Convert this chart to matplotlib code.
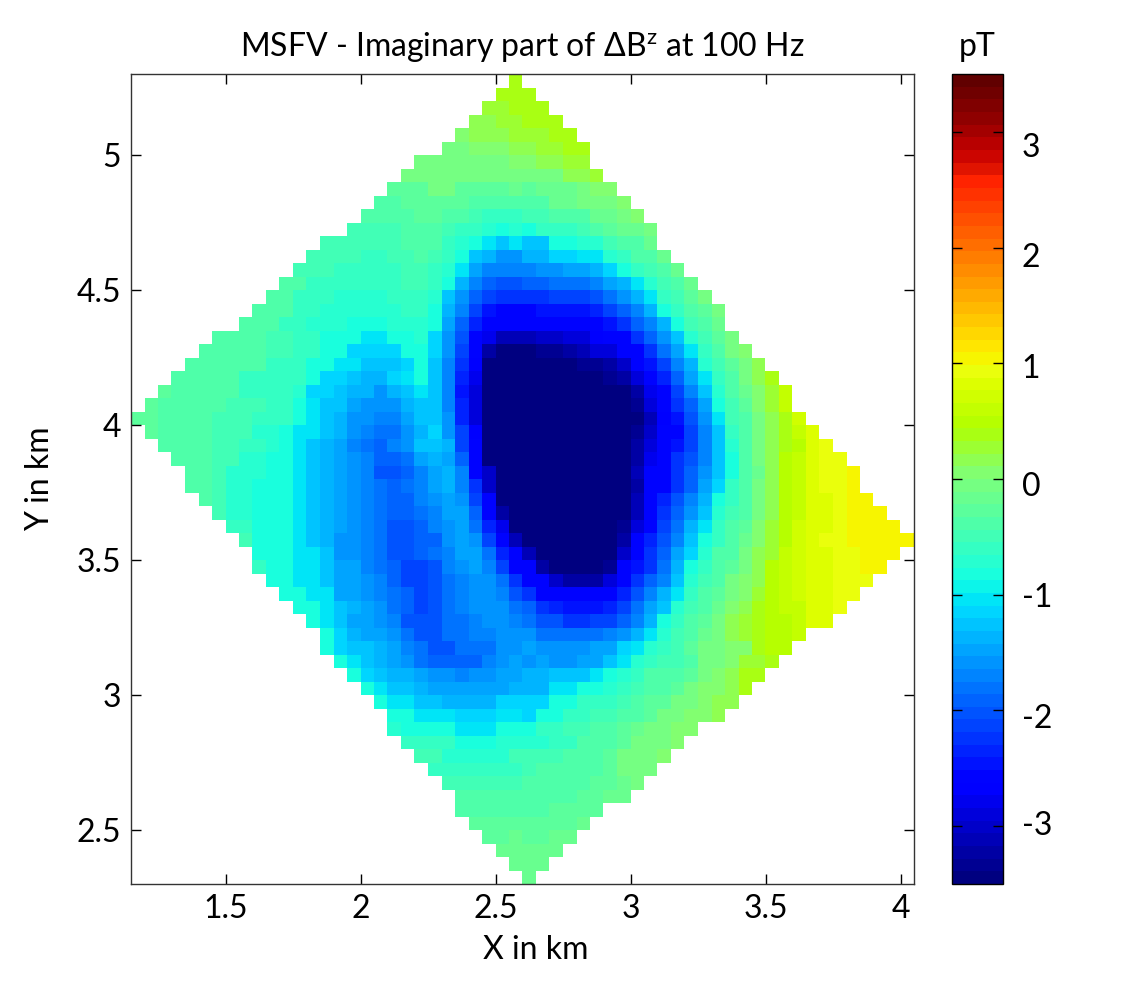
#!/usr/bin/env python3
import matplotlib

matplotlib.use("Agg")

import matplotlib.pyplot as plt
import numpy as np
from matplotlib.colors import ListedColormap

# grid of the map: 58 columns x 60 rows, 0.05 km cells
X_EDGES = np.linspace(1.15, 4.05, 59)
Y_EDGES = np.linspace(5.3, 2.3, 61)

X_TICKS = [1.5, 2, 2.5, 3, 3.5, 4]
Y_TICKS = [2.5, 3, 3.5, 4, 4.5, 5]
CBAR_TICKS = [-3, -2, -1, 0, 1, 2, 3]
# the labels of the colour bar sit a little off their ticks in the original
CBAR_LABEL_Y = [-3.0, -2.07, -1.03, -0.07, 0.95, 1.91, 2.86]

# first filled column of each row, top row first
ROW_START = [
    28, 27, 26, 25, 24, 23, 21, 20, 19, 18, 17, 16, 14, 13, 12, 11, 10, 9, 8, 6,
    5, 4, 3, 2, 1, 0, 1, 2, 3, 4, 4, 5, 6, 7, 8, 9, 9, 10, 11, 12,
    13, 14, 14, 15, 16, 17, 18, 19, 19, 20, 21, 22, 23, 24, 24, 25, 26, 27, 28, 29,
]

# colour grades, one number per cell
ROW_VALUES = [
    [4],
    [4, 4, 4],
    [3, 3, 4, 4, 4],
    [2, 2, 3, 3, 4, 4, 4],
    [1, 2, 2, 2, 3, 3, 3, 4, 4],
    [0, 0, 1, 1, 1, 2, 2, 3, 3, 4, 4],
    [-1, -1, 0, 0, 0, 0, 0, 1, 1, 2, 2, 3, 3],
    [-1, -1, -1, -1, -1, -1, -1, -1, -1, -1, 0, 0, 2, 2, 3],
    [-3, -3, -3, -1, -1, -3, -3, -3, -3, -2, -3, -2, -2, -2, -1, 1, 1],
    [-4, -4, -3, -3, -3, -3, -3, -5, -5, -5, -5, -4, -4, -2, -2, -1, -1, 0, 1],
    [-5, -5, -5, -5, -3, -3, -4, -4, -6, -7, -7, -7, -6, -6, -5, -5, -4, -2, -2, -1, 1],
    [-6, -6, -6, -6, -5, -5, -5, -6, -7, -7, -8, -9, -8, -9, -7, -7, -7, -6, -5, -3, -2, -2, 0],
    [-6, -6, -6, -6, -6, -6, -5, -5, -5, -7, -8, -9, -10, -12, -10, -12, -12, -9, -9, -8, -8, -6, -5, -4, -2],
    [-6, -6, -6, -6, -7, -7, -6, -6, -5, -6, -7, -9, -12, -13, -15, -15, -13, -13, -11, -11, -10, -10, -8, -7, -5, -4, -2],
    [-6, -6, -6, -7, -7, -7, -7, -7, -6, -6, -7, -8, -10, -14, -17, -17, -17, -17, -15, -15, -14, -14, -13, -11, -9, -7, -6, -4, -2],
    [-5, -5, -7, -7, -7, -7, -7, -7, -7, -6, -6, -7, -9, -13, -17, -19, -21, -21, -19, -19, -18, -18, -18, -17, -14, -13, -10, -8, -6, -5, -2],
    [-5, -5, -7, -7, -7, -8, -8, -8, -8, -7, -7, -7, -8, -12, -15, -19, -22, -23, -23, -23, -23, -22, -22, -22, -21, -18, -15, -13, -10, -7, -6, -3, 0],
    [-4, -5, -5, -7, -7, -8, -8, -8, -8, -8, -8, -7, -7, -9, -13, -17, -22, -25, -26, -26, -26, -25, -25, -25, -25, -24, -22, -19, -17, -13, -9, -7, -4, -3, -1],
    [-4, -5, -5, -7, -7, -8, -8, -8, -9, -9, -9, -8, -8, -8, -9, -14, -19, -24, -26, -26, -26, -26, -26, -26, -26, -26, -26, -25, -23, -19, -17, -13, -9, -6, -4, -2],
    [-4, -4, -5, -5, -6, -6, -7, -7, -9, -9, -9, -10, -10, -9, -9, -8, -11, -15, -21, -26, -28, -31, -31, -31, -30, -30, -29, -29, -27, -26, -26, -23, -19, -15, -12, -8, -6, -3, 0],
    [-4, -4, -5, -5, -5, -6, -6, -7, -7, -9, -9, -11, -11, -11, -11, -9, -9, -11, -15, -22, -26, -32, -35, -35, -35, -33, -33, -32, -31, -29, -29, -26, -26, -23, -18, -14, -10, -7, -4, -1, 1],
    [-4, -4, -5, -5, -5, -5, -7, -7, -7, -9, -9, -10, -10, -12, -12, -12, -11, -9, -12, -17, -23, -27, -35, -35, -35, -35, -35, -35, -35, -33, -33, -32, -30, -26, -25, -22, -17, -13, -8, -6, -3, 0, 2],
    [-4, -4, -5, -5, -5, -7, -7, -7, -7, -7, -9, -11, -11, -12, -13, -13, -11, -10, -9, -12, -17, -24, -28, -35, -35, -35, -35, -35, -35, -35, -35, -35, -33, -32, -29, -26, -24, -19, -14, -10, -7, -4, 0, 2, 4],
    [-3, -4, -4, -5, -5, -5, -7, -7, -7, -7, -8, -11, -11, -12, -13, -13, -15, -13, -12, -10, -12, -17, -25, -29, -35, -35, -35, -35, -35, -35, -35, -35, -35, -35, -34, -32, -28, -26, -22, -17, -12, -8, -5, -2, 1, 3, 6],
    [-3, -4, -4, -4, -5, -5, -6, -6, -6, -7, -7, -9, -10, -12, -12, -14, -15, -15, -15, -13, -12, -12, -17, -24, -29, -35, -35, -35, -35, -35, -35, -35, -35, -35, -35, -35, -33, -29, -26, -23, -19, -14, -9, -6, -3, 1, 3, 6],
    [-3, -3, -4, -4, -5, -5, -6, -6, -6, -7, -7, -7, -9, -10, -12, -13, -15, -15, -17, -17, -14, -12, -12, -15, -24, -29, -35, -35, -35, -35, -35, -35, -35, -35, -35, -35, -35, -34, -31, -27, -25, -21, -15, -10, -6, -4, 0, 2, 4, 7],
    [-3, -4, -4, -5, -5, -6, -6, -6, -8, -8, -9, -10, -10, -12, -13, -15, -17, -18, -18, -15, -13, -11, -15, -22, -27, -35, -35, -35, -35, -35, -35, -35, -35, -35, -35, -35, -33, -30, -26, -26, -22, -17, -12, -7, -4, 0, 2, 4, 6, 8],
    [-4, -4, -5, -5, -6, -6, -7, -7, -8, -9, -10, -12, -13, -14, -17, -18, -19, -17, -15, -12, -12, -13, -22, -26, -35, -35, -35, -35, -35, -35, -35, -35, -35, -35, -35, -32, -29, -26, -25, -22, -17, -12, -8, -4, -1, 2, 4, 5, 8, 9],
    [-4, -5, -5, -6, -6, -8, -8, -9, -9, -10, -12, -13, -14, -15, -17, -19, -19, -18, -14, -13, -14, -19, -26, -35, -35, -35, -35, -35, -35, -35, -35, -35, -35, -35, -32, -28, -26, -23, -21, -17, -12, -9, -5, -1, 2, 5, 6, 8, 9, 9],
    [-5, -5, -6, -8, -8, -8, -9, -9, -10, -12, -13, -14, -15, -17, -21, -21, -19, -17, -14, -13, -17, -26, -30, -35, -35, -35, -35, -35, -35, -35, -35, -35, -35, -31, -26, -26, -23, -19, -15, -12, -9, -5, -2, 2, 5, 6, 8, 9, 9, 11],
    [-5, -5, -6, -8, -8, -9, -9, -9, -10, -12, -13, -14, -15, -17, -18, -19, -18, -17, -14, -13, -17, -23, -30, -35, -35, -35, -35, -35, -35, -35, -35, -35, -35, -32, -26, -26, -23, -19, -14, -11, -7, -4, -1, 2, 5, 6, 8, 9, 9, 11],
    [-5, -6, -8, -8, -9, -9, -9, -10, -12, -13, -14, -15, -17, -18, -19, -19, -17, -15, -14, -15, -22, -26, -35, -35, -35, -35, -35, -35, -35, -35, -35, -35, -31, -26, -24, -21, -17, -13, -9, -7, -5, 0, 2, 5, 6, 8, 8, 9, 11, 11],
    [-6, -8, -8, -9, -9, -9, -10, -12, -13, -14, -15, -17, -18, -19, -19, -18, -17, -14, -14, -19, -26, -32, -35, -35, -35, -35, -35, -35, -35, -35, -35, -31, -26, -23, -19, -15, -12, -8, -6, -4, 0, 2, 5, 6, 8, 8, 9, 11, 11, 11],
    [-7, -7, -9, -9, -9, -10, -12, -13, -14, -15, -17, -18, -21, -21, -19, -17, -15, -14, -18, -24, -28, -34, -35, -35, -35, -35, -35, -35, -35, -33, -29, -26, -22, -18, -13, -10, -7, -5, -3, 1, 3, 5, 7, 8, 8, 9, 11, 11, 11, 11],
    [-6, -9, -9, -9, -10, -12, -13, -15, -15, -17, -18, -21, -21, -19, -19, -15, -14, -15, -22, -26, -31, -35, -35, -35, -35, -35, -35, -35, -32, -26, -24, -21, -17, -12, -9, -7, -5, -2, 1, 3, 5, 7, 8, 9, 9, 11, 11, 11, 11, 11],
    [-9, -9, -9, -10, -10, -12, -15, -15, -17, -18, -21, -21, -19, -18, -17, -14, -14, -18, -24, -26, -31, -35, -35, -35, -35, -35, -35, -30, -26, -23, -19, -14, -11, -8, -5, -4, 0, 2, 3, 6, 7, 8, 8, 9, 9, 11, 11, 11],
    [-7, -9, -9, -10, -10, -12, -14, -14, -17, -18, -19, -22, -22, -21, -17, -15, -14, -17, -22, -26, -26, -32, -35, -35, -35, -35, -33, -26, -25, -23, -18, -13, -9, -7, -4, -3, 0, 2, 5, 6, 7, 8, 8, 9, 9, 11, 11],
    [-9, -9, -10, -10, -12, -14, -14, -15, -17, -19, -22, -22, -21, -18, -17, -15, -15, -18, -23, -26, -26, -30, -32, -32, -32, -29, -26, -23, -19, -17, -12, -8, -6, -4, -1, 1, 2, 5, 6, 7, 8, 8, 9, 9, 9],
    [-9, -9, -10, -10, -14, -14, -15, -17, -18, -19, -22, -21, -18, -17, -15, -15, -17, -21, -23, -26, -26, -26, -26, -26, -26, -24, -21, -17, -13, -10, -7, -5, -3, 0, 1, 3, 5, 6, 7, 8, 8, 9, 9],
    [-9, -9, -10, -12, -13, -14, -15, -18, -19, -22, -21, -18, -17, -15, -15, -15, -18, -19, -23, -24, -25, -25, -25, -24, -22, -18, -14, -12, -8, -6, -4, -2, 1, 2, 4, 5, 6, 6, 8, 8, 9],
    [-9, -10, -12, -14, -14, -15, -17, -20, -20, -20, -18, -18, -17, -15, -15, -17, -18, -21, -21, -23, -23, -22, -22, -19, -17, -13, -9, -7, -5, -3, -1, 2, 3, 4, 5, 5, 6, 8, 8],
    [-9, -11, -13, -14, -14, -15, -18, -20, -20, -18, -18, -17, -17, -15, -15, -16, -18, -18, -18, -18, -18, -17, -15, -13, -10, -8, -6, -4, -2, 0, 2, 3, 4, 5, 5, 6],
    [-9, -11, -12, -12, -13, -14, -17, -18, -20, -20, -18, -18, -18, -15, -15, -14, -16, -16, -16, -16, -14, -14, -11, -10, -8, -7, -6, -3, -1, 0, 1, 1, 4, 5, 5],
    [-9, -10, -12, -13, -14, -15, -18, -19, -19, -19, -19, -17, -15, -14, -15, -14, -15, -15, -14, -14, -12, -10, -8, -7, -6, -6, -4, -1, 0, 1, 3, 3, 4],
    [-9, -11, -12, -13, -13, -14, -15, -15, -17, -16, -16, -14, -14, -13, -13, -12, -12, -12, -10, -9, -8, -7, -5, -4, -4, -3, 0, 1, 2, 4, 4],
    [-9, -10, -12, -12, -13, -14, -14, -14, -14, -14, -14, -13, -13, -13, -10, -10, -9, -9, -8, -7, -6, -4, -4, -3, -1, 1, 1, 2, 4],
    [-9, -10, -10, -12, -12, -13, -13, -13, -13, -11, -11, -11, -11, -9, -9, -7, -7, -7, -6, -4, -3, -3, -1, 0, 1, 2, 2],
    [-9, -9, -10, -10, -10, -11, -11, -11, -10, -10, -11, -9, -9, -7, -7, -6, -6, -5, -4, -3, -1, 0, 1, 1, 2],
    [-8, -9, -9, -9, -9, -10, -10, -10, -9, -9, -9, -7, -7, -6, -6, -5, -4, -3, -2, -1, 0, 1, 1],
    [-7, -7, -7, -7, -9, -9, -9, -8, -8, -8, -8, -7, -7, -5, -5, -4, -3, -1, -1, 0, 1],
    [-6, -6, -8, -8, -8, -8, -8, -6, -6, -6, -6, -5, -5, -4, -3, -1, -1, 0, 1],
    [-7, -7, -7, -7, -7, -7, -7, -6, -5, -5, -5, -4, -4, -3, -1, -1, 0],
    [-6, -6, -6, -6, -6, -6, -5, -5, -4, -4, -4, -3, -3, -2, -1],
    [-5, -5, -5, -5, -4, -4, -4, -4, -4, -3, -3, -2, -2],
    [-4, -4, -4, -4, -4, -4, -4, -3, -3, -3, -3],
    [-3, -3, -3, -3, -3, -3, -3, -3, -2],
    [-3, -3, -2, -3, -3, -2, -2],
    [-2, -2, -2, -2, -2],
    [-2, -2, -2],
    [-2],
]

# what each colour grade above stands for on the colour bar, in pT
GRADES = [-35, -26, -23, -22, -21, -20, -19, -18, -17, -15, -14, -13, -12, -11, -10, -9, -8, -7, -6, -5, -4, -3, -2, -1, 0, 1, 2, 3, 4, 5, 6, 7, 8, 9, 11]
GRADE_PT = [-3.5, -2.62, -2.27, -2.16, -2.04, -1.98, -1.92, -1.8, -1.69, -1.57, -1.46, -1.34, -1.22, -1.11, -0.99, -0.875, -0.76, -0.64, -0.525, -0.41, -0.35, -0.29, -0.175, -0.1, -0.05, 0.08, 0.2, 0.3, 0.35, 0.45, 0.6, 0.7, 0.8, 0.9, 1.05]

# darkest reds of the colour bar, bottom to top
TOP_REDS = [0.88, 0.80, 0.72, 0.64, 0.56, 0.50, 0.44, 0.38]

plt.rcParams["font.family"] = ["Lato", "DejaVu Sans"]
plt.rcParams["mathtext.fontset"] = "custom"
plt.rcParams["mathtext.rm"] = "Lato"
plt.rcParams["mathtext.default"] = "rm"
plt.rcParams["axes.unicode_minus"] = False

grid = np.full((60, 58), np.nan)
for row, (start, values) in enumerate(zip(ROW_START, ROW_VALUES)):
    grid[row, start:start + len(values)] = np.interp(values, GRADES, GRADE_PT)

# jet with 64 bands, but the blue runs out sooner on the way to yellow
colors = plt.get_cmap("jet", 64)(np.arange(64))
colors[-len(TOP_REDS):, 0] = TOP_REDS
band_mid = -3.5 + (np.arange(64) + 0.5) * 7 / 64
warm = (band_mid > 0) & (band_mid < 0.875)
colors[warm, 2] = np.clip(0.5 * (1 - band_mid[warm] / 0.45), 0, 1)
cmap = ListedColormap(colors)

fig = plt.figure(figsize=(11.26, 9.98), dpi=100)
ax = fig.add_axes([131 / 1126, 1 - 884 / 998, 783 / 1126, 810 / 998])
cax = fig.add_axes([952 / 1126, 1 - 884 / 998, 51 / 1126, 810 / 998])

mesh = ax.pcolormesh(X_EDGES, Y_EDGES, np.ma.masked_invalid(grid), cmap=cmap, vmin=-3.5, vmax=3.5)
ax.set_xlim(1.15, 4.05)
ax.set_ylim(2.3, 5.3)
ax.set_xticks(X_TICKS, [f"{v:g}" for v in X_TICKS])
ax.set_yticks(Y_TICKS, [f"{v:g}" for v in Y_TICKS])
ax.tick_params(direction="in", top=True, right=True, length=7, width=1, labelsize=23, pad=7)
ax.set_xlabel("X in km", fontsize=23)
ax.xaxis.set_label_coords(0.517, -0.0815, transform=ax.transAxes)
ax.xaxis.label.set_va("center")
ax.set_ylabel("Y in km", fontsize=23)
ax.yaxis.set_label_coords(-0.1165, 0.5, transform=ax.transAxes)
ax.yaxis.label.set_va("center")
ax.set_title("MSFV - Imaginary part of ΔB$^{z}$ at 100 Hz", fontsize=23, pad=13)
for spine in ax.spines.values():
    spine.set_linewidth(1)
    spine.set_color("#333333")

bar = fig.colorbar(mesh, cax=cax, ticks=CBAR_TICKS)
cax.tick_params(direction="in", left=True, right=True, length=7, width=1, labelright=False, color="black")
bar.outline.set_linewidth(1)
label_pos = cax.get_yaxis_transform()
for value, label_y in zip(CBAR_TICKS, CBAR_LABEL_Y):
    cax.text(1.37, label_y, f"{value:d}", transform=label_pos, ha="left", va="center", fontsize=23)
cax.set_title("pT", fontsize=23, pad=13)

fig.savefig("out.png", dpi=100)
plt.close(fig)
